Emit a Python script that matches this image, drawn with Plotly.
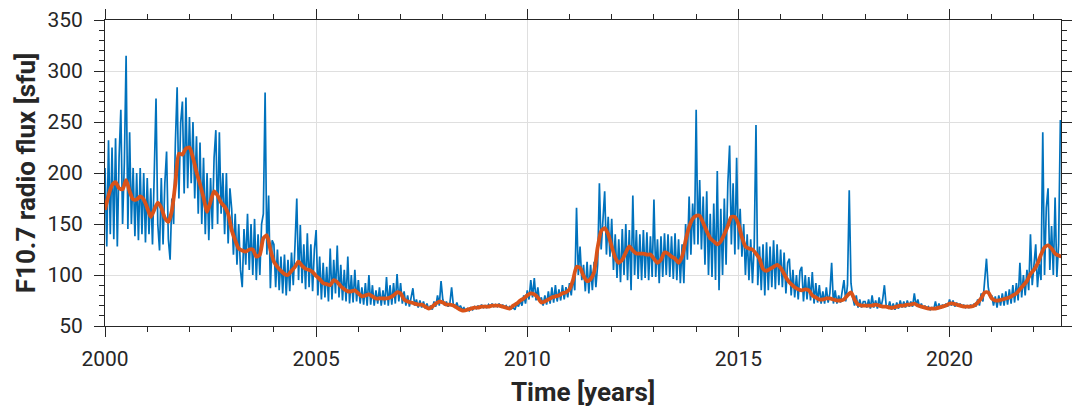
import plotly.graph_objects as go

flux_2000 = [205, 128, 232, 140, 225, 135, 234, 128, 215, 262, 150, 210, 315, 145, 240, 150, 205, 138, 200, 134, 205, 140, 200, 132]
flux_2001 = [195, 140, 185, 130, 200, 273, 150, 124, 195, 130, 190, 221, 135, 115, 175, 150, 230, 284, 175, 249, 270, 180, 274, 185]
flux_2002 = [255, 190, 250, 175, 236, 160, 230, 150, 215, 140, 200, 134, 195, 145, 215, 242, 150, 240, 160, 200, 140, 200, 131, 185]
flux_2003 = [165, 120, 160, 110, 150, 105, 88, 145, 110, 160, 105, 150, 100, 155, 95, 140, 100, 150, 160, 279, 120, 178, 87, 134]
flux_2004 = [130, 88, 125, 85, 118, 82, 120, 80, 115, 84, 122, 90, 130, 175, 95, 149, 92, 130, 86, 141, 88, 130, 84, 125]
flux_2005 = [144, 80, 118, 76, 112, 78, 108, 74, 126, 76, 115, 82, 129, 78, 110, 75, 105, 74, 118, 72, 100, 73, 105, 74]
flux_2006 = [95, 72, 88, 71, 92, 70, 100, 71, 90, 70, 85, 72, 88, 70, 85, 71, 98, 70, 90, 71, 92, 72, 101, 74]
flux_2007 = [92, 72, 84, 70, 80, 69, 78, 87, 70, 76, 68, 75, 68, 74, 67, 72, 66, 70, 66, 74, 69, 80, 70, 94]
flux_2008 = [76, 70, 74, 69, 72, 88, 70, 68, 73, 67, 70, 66, 68, 65, 67, 65, 68, 66, 69, 67, 70, 67, 71, 68]
flux_2009 = [70, 68, 71, 69, 72, 69, 71, 69, 72, 68, 71, 68, 70, 67, 69, 67, 68, 66, 72, 69, 75, 70, 80, 72]
flux_2010 = [85, 76, 95, 78, 97, 75, 88, 74, 78, 70, 80, 71, 84, 72, 88, 73, 90, 74, 86, 75, 90, 76, 88, 78]
flux_2011 = [92, 80, 98, 85, 166, 100, 128, 95, 110, 84, 113, 82, 110, 85, 113, 88, 110, 190, 125, 160, 182, 120, 157, 118]
flux_2012 = [155, 105, 140, 97, 135, 93, 145, 100, 150, 95, 144, 85, 178, 100, 144, 96, 140, 95, 144, 97, 142, 95, 138, 98]
flux_2013 = [174, 98, 135, 92, 138, 98, 141, 100, 140, 98, 138, 96, 141, 95, 135, 92, 130, 92, 150, 115, 177, 120, 170, 130]
flux_2014 = [262, 130, 193, 125, 177, 110, 182, 100, 160, 98, 170, 95, 202, 85, 165, 100, 175, 110, 190, 227, 130, 190, 120, 215]
flux_2015 = [125, 165, 118, 150, 100, 140, 95, 135, 92, 130, 247, 90, 128, 85, 130, 80, 132, 85, 128, 88, 134, 86, 130, 90]
flux_2016 = [125, 88, 122, 82, 112, 116, 80, 105, 78, 100, 76, 104, 108, 74, 100, 76, 98, 75, 103, 72, 92, 73, 90, 72]
flux_2017 = [84, 72, 88, 73, 82, 112, 72, 85, 72, 80, 73, 84, 95, 74, 90, 183, 92, 78, 70, 80, 68, 76, 68, 74]
flux_2018 = [74, 68, 76, 67, 80, 68, 75, 67, 78, 68, 76, 90, 70, 67, 74, 66, 72, 66, 73, 67, 75, 68, 74, 68]
flux_2019 = [75, 69, 74, 69, 82, 70, 76, 68, 72, 67, 70, 67, 69, 66, 68, 66, 74, 66, 72, 67, 71, 68, 72, 69]
flux_2020 = [76, 70, 75, 69, 73, 69, 72, 68, 71, 68, 70, 68, 71, 68, 72, 69, 76, 70, 82, 74, 92, 116, 88, 78]
flux_2021 = [80, 70, 79, 68, 80, 70, 82, 70, 84, 71, 86, 72, 90, 73, 92, 75, 112, 78, 100, 80, 105, 85, 140, 90]
flux_2022 = [110, 130, 88, 111, 95, 240, 100, 166, 185, 105, 148, 100, 176, 98, 130, 252]

# ---- Smoothed flux, monthly values ----
smooth_2000_2003 = [164, 178, 188, 191, 185, 184, 193, 182, 174, 174, 177, 174,
                    166, 157, 164, 171, 166, 156, 152, 163, 190, 219, 218, 224,
                    225, 215, 201, 189, 176, 162, 172, 182, 178, 171, 167, 160,
                    144, 134, 126, 124, 123, 125, 125, 118, 120, 136, 139, 125]
smooth_2004_2007 = [113, 108, 104, 101, 100, 104, 108, 113, 109, 106, 105, 103,
                    99, 96, 92, 91, 90, 95, 93, 89, 86, 84, 84, 85,
                    82, 79, 80, 81, 79, 77, 77, 77, 77, 78, 80, 83,
                    82, 76, 74, 73, 72, 71, 71, 69, 67, 69, 72, 74]
smooth_2008_2011 = [73, 71, 71, 70, 68, 66, 65, 66, 67, 68, 68, 69,
                    69, 69, 70, 70, 70, 69, 68, 67, 70, 72, 75, 77,
                    80, 82, 81, 78, 73, 74, 76, 78, 79, 80, 82, 83,
                    86, 95, 108, 107, 99, 94, 96, 103, 127, 143, 146, 140]
smooth_2012_2015 = [128, 117, 112, 115, 122, 128, 124, 121, 121, 121, 120, 120,
                    116, 112, 115, 122, 121, 118, 116, 112, 118, 134, 147, 155,
                    158, 158, 151, 143, 136, 133, 130, 133, 140, 148, 157, 157,
                    150, 137, 128, 126, 125, 121, 116, 106, 104, 106, 108, 110]
smooth_2016_2019 = [107, 101, 95, 91, 88, 86, 85, 86, 85, 80, 78, 76,
                    76, 77, 77, 76, 75, 75, 76, 80, 83, 76, 71, 70,
                    70, 70, 70, 71, 70, 69, 69, 68, 68, 69, 70, 70,
                    71, 71, 72, 70, 69, 68, 67, 67, 67, 68, 69, 70]
smooth_2020_2022 = [72, 72, 71, 70, 69, 69, 69, 70, 73, 77, 83, 83,
                    77, 75, 75, 76, 77, 78, 80, 82, 86, 90, 94, 101,
                    105, 111, 120, 127, 129, 126, 121, 119, 118]

daily_flux = (flux_2000 + flux_2001 + flux_2002 + flux_2003 + flux_2004 + flux_2005
              + flux_2006 + flux_2007 + flux_2008 + flux_2009 + flux_2010 + flux_2011
              + flux_2012 + flux_2013 + flux_2014 + flux_2015 + flux_2016 + flux_2017
              + flux_2018 + flux_2019 + flux_2020 + flux_2021 + flux_2022)
smoothed_flux = (smooth_2000_2003 + smooth_2004_2007 + smooth_2008_2011
                 + smooth_2012_2015 + smooth_2016_2019 + smooth_2020_2022)

start_year = 2000
t_daily = [start_year + i / 24 for i in range(len(daily_flux))]
t_smooth = [start_year + i / 12 for i in range(len(smoothed_flux))]

x_tick_vals = [2000, 2005, 2010, 2015, 2020]
y_tick_vals = [50, 100, 150, 200, 250, 300, 350]

BLUE = "#0072BD"
ORANGE = "#D95319"
AX = "#262626"
GRID = "#dfdfdf"
FONT = "Roboto"

fig = go.Figure()
fig.add_trace(go.Scatter(x=t_daily, y=daily_flux, mode="lines",
                         line=dict(color=BLUE, width=1.7), showlegend=False,
                         hoverinfo="skip"))
fig.add_trace(go.Scatter(x=t_smooth, y=smoothed_flux, mode="lines",
                         line=dict(color=ORANGE, width=3.8, shape="spline", smoothing=0.6),
                         showlegend=False, hoverinfo="skip"))

axis_common = dict(
    showline=True, linecolor=AX, linewidth=1, mirror="allticks",
    ticks="outside", ticklen=10, tickwidth=1, tickcolor=AX,
    showgrid=True, gridcolor=GRID, gridwidth=1, zeroline=False,
    tickfont=dict(family=FONT, size=21, color=AX),
)

fig.update_xaxes(
    range=[2000, 2022.64], tickvals=x_tick_vals, ticktext=[str(v) for v in x_tick_vals],
    minor=dict(dtick=1, tick0=2000, ticks="outside", ticklen=5, tickcolor=AX, showgrid=False),
    ticklabelstandoff=4,
    title=dict(text="Time [years]", font=dict(family=FONT, size=26, color=AX, weight="bold"),
               standoff=12),
    **axis_common,
)
fig.update_yaxes(
    range=[50, 350], tickvals=y_tick_vals, ticktext=[str(v) for v in y_tick_vals],
    minor=dict(dtick=10, tick0=50, ticks="outside", ticklen=5, tickcolor=AX, showgrid=False),
    ticklabelstandoff=7,
    title=dict(text="F10.7 radio flux [sfu]", font=dict(family=FONT, size=26, color=AX, weight="bold"),
               standoff=4),
    **axis_common,
)

fig.update_layout(
    width=1075, height=407,
    margin=dict(l=105, r=3, t=20, b=81),
    plot_bgcolor="white", paper_bgcolor="white",
    font=dict(family=FONT, color=AX),
)

fig.write_html("out.html")
